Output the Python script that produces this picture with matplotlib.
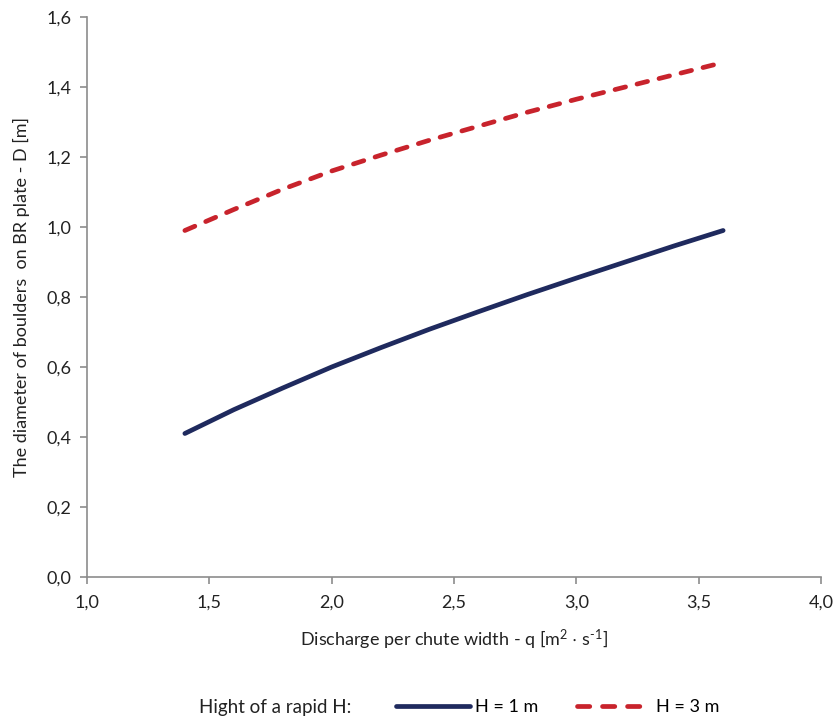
import matplotlib
matplotlib.use("Agg")
import matplotlib.pyplot as plt
from matplotlib.lines import Line2D
from matplotlib.ticker import FuncFormatter, MultipleLocator

q = [1.4, 1.6, 1.8, 2.0, 2.2, 2.4, 2.6, 2.8, 3.0, 3.2, 3.4, 3.6]
d_h1 = [0.41, 0.478, 0.54, 0.60, 0.655, 0.708, 0.758, 0.807, 0.854, 0.900, 0.946, 0.99]
d_h3 = [0.99, 1.05, 1.108, 1.16, 1.205, 1.248, 1.288, 1.328, 1.365, 1.40, 1.435, 1.47]
labels = ["H = 1 m", "H = 3 m"]

plt.rcParams['font.family'] = ['Lato', 'DejaVu Sans']
plt.rcParams['mathtext.fontset'] = 'custom'
plt.rcParams['mathtext.rm'] = 'Lato'
plt.rcParams['mathtext.it'] = 'Lato:italic'
plt.rcParams['mathtext.default'] = 'regular'

fig = plt.figure(figsize=(8.39, 7.2), dpi=100)
ax = fig.add_axes([87/839, 1-577/720, (821-87)/839, (577-17)/720])

navy = '#1f2a5e'
red = '#c8232c'
ax.plot(q, d_h1, color=navy, lw=3.4, solid_capstyle='round', label=labels[0])
ax.plot(q, d_h3, color=red, lw=3.4, dashes=(2.3, 2.5), dash_capstyle='round', label=labels[1])

ax.set_xlim(1.0, 4.0)
ax.set_ylim(0.0, 1.6)
ax.xaxis.set_major_locator(MultipleLocator(0.5))
ax.yaxis.set_major_locator(MultipleLocator(0.2))
fmt = FuncFormatter(lambda v, p: f"{v:.1f}".replace('.', ','))
ax.xaxis.set_major_formatter(fmt)
ax.yaxis.set_major_formatter(fmt)

for s in ['top', 'right']:
    ax.spines[s].set_visible(False)
for s in ['left', 'bottom']:
    ax.spines[s].set_color('#8c8c8c')
    ax.spines[s].set_linewidth(1.2)
ax.tick_params(axis='both', colors='#8c8c8c', labelcolor='#222222', labelsize=13,
               length=5, width=1.2, direction='out')
ax.tick_params(axis='x', pad=8)
ax.tick_params(axis='y', pad=6)

ax.set_xlabel("Discharge per chute width - q [m$^{2}$ $\\cdot$ s$^{\u2010 1}$]", fontsize=13, labelpad=12, color='#222222')
ax.set_ylabel("The diameter of boulders  on BR plate - D [m]", fontsize=13, labelpad=12, color='#222222')

fig.text(199/839, 1-707/720, "Hight of a rapid H:", fontsize=13.5, va='center', ha='left', color='#222222')
handles = [Line2D([0], [0], color=navy, lw=3.4, solid_capstyle='round'),
           Line2D([0], [0], color=red, lw=3.4, dashes=(2.6, 2.7), dash_capstyle='round')]
fig.legend(handles, labels, loc='center left', bbox_to_anchor=(396/839, 1-707/720), ncol=2,
           frameon=False, fontsize=13, handlelength=4.1, handletextpad=0.3, columnspacing=2.1,
           borderaxespad=0, borderpad=0)

fig.savefig("out.png", dpi=100)
